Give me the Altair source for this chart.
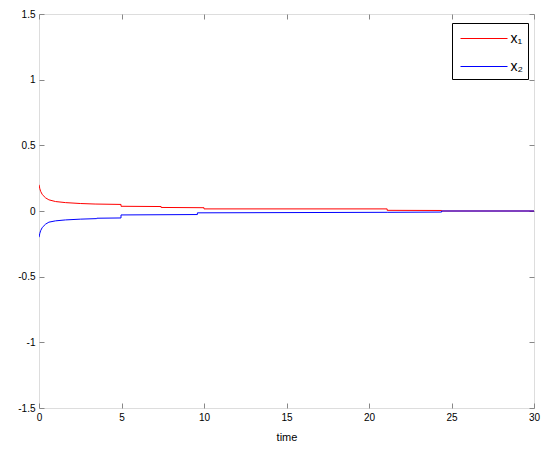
import altair as alt
import pandas as pd

# ---- data ----
series_names = ["x₁", "x₂"]
series_colors = ["#ff0000", "#0000ff"]

time_x1 = [0.0, 0.05, 0.1, 0.2, 0.4, 0.6, 1.0, 1.6, 2.5, 3.4, 4.97, 4.97, 7.4, 7.4, 10.0, 10.0, 21.1, 21.1, 24.4, 24.4, 30.0]
val_x1 = [0.2, 0.17, 0.15, 0.125, 0.1, 0.085, 0.072, 0.064, 0.057, 0.053, 0.05, 0.036, 0.034, 0.027, 0.025, 0.016, 0.016, 0.005, 0.004, 0.0, 0.0]

time_x2 = [0.0, 0.05, 0.1, 0.2, 0.4, 0.6, 1.0, 1.6, 2.5, 3.5, 3.5, 4.97, 4.97, 9.6, 9.6, 21.1, 24.4, 24.4, 30.0]
val_x2 = [-0.2, -0.17, -0.15, -0.125, -0.1, -0.085, -0.075, -0.068, -0.062, -0.058, -0.055, -0.053, -0.03, -0.027, -0.014, -0.01, -0.008, 0.0, 0.0]

x_ticks = [0, 5, 10, 15, 20, 25, 30]
y_ticks = [-1.5, -1, -0.5, 0, 0.5, 1, 1.5]

df = pd.DataFrame({
    "time": time_x1 + time_x2,
    "value": val_x1 + val_x2,
    "series": [series_names[0]] * len(time_x1) + [series_names[1]] * len(time_x2),
    "idx": list(range(len(time_x1))) + list(range(len(time_x2))),
})

W, H = 495, 394
FONT = "Liberation Sans"
FS = 14
xs = alt.Scale(domain=[0, 30], nice=False, zero=False)
ys = alt.Scale(domain=[-1.5, 1.5], nice=False, zero=False)

base = alt.Chart(df)

lines = base.mark_line(strokeWidth=1, clip=True).encode(
    x=alt.X("time:Q", scale=xs,
            axis=alt.Axis(orient="bottom", values=x_ticks, ticks=False, domain=False, grid=False,
                          title="time", titleFontWeight="normal", labelPadding=4, titlePadding=9,
                          labelFlush=False, labelExpr="'' + datum.value")),
    y=alt.Y("value:Q", scale=ys,
            axis=alt.Axis(orient="left", values=y_ticks, ticks=False, domain=False, grid=False,
                          title=None, labelPadding=4, labelFlush=False,
                          labelExpr="'' + datum.value")),
    color=alt.Color("series:N", scale=alt.Scale(domain=series_names, range=series_colors),
                    legend=alt.Legend(title=None, orient="none", legendX=413, legendY=9,
                                      strokeColor="black", fillColor="white", padding=5,
                                      symbolType="M-2.35,0H2.35", symbolSize=400, symbolStrokeWidth=1,
                                      symbolOffset=16.5, labelOffset=16, rowPadding=10,
                                      labelExpr="datum.label + '\u2002'",
                                      labelFontSize=FS, labelFont=FONT, labelColor="black")),
    order="idx:Q",
)

# inward ticks on bottom and left
ticks_a = base.mark_point(opacity=0).encode(
    x=alt.X("time:Q", scale=xs,
            axis=alt.Axis(orient="top", offset=-H, values=x_ticks, labels=False, ticks=True, tickSize=5,
                          domain=False, grid=False, title=None)),
    y=alt.Y("value:Q", scale=ys,
            axis=alt.Axis(orient="right", offset=-W, values=y_ticks, labels=False, ticks=True, tickSize=5,
                          domain=False, grid=False, title=None)),
)

# inward ticks on top and right
ticks_b = base.mark_point(opacity=0).encode(
    x=alt.X("time:Q", scale=xs,
            axis=alt.Axis(orient="bottom", offset=-H, values=x_ticks, labels=False, ticks=True, tickSize=5,
                          domain=False, grid=False, title=None)),
    y=alt.Y("value:Q", scale=ys,
            axis=alt.Axis(orient="left", offset=-W, values=y_ticks, labels=False, ticks=True, tickSize=5,
                          domain=False, grid=False, title=None)),
)

chart = alt.layer(lines, ticks_a, ticks_b).resolve_axis(
    x="independent", y="independent"
).properties(
    width=W, height=H,
    autosize=alt.AutoSizeParams(type="none"),
    padding={"left": 31, "top": 6, "right": 8, "bottom": 40},
).configure_view(
    stroke="black", strokeWidth=1
).configure_axis(
    labelFont=FONT, titleFont=FONT, labelFontSize=FS, titleFontSize=FS,
    titleFontWeight="normal", labelColor="black", titleColor="black",
    tickColor="black", tickWidth=1,
).configure(background="white")

chart.save("out.html", embed_options={"renderer": "svg", "actions": False})
